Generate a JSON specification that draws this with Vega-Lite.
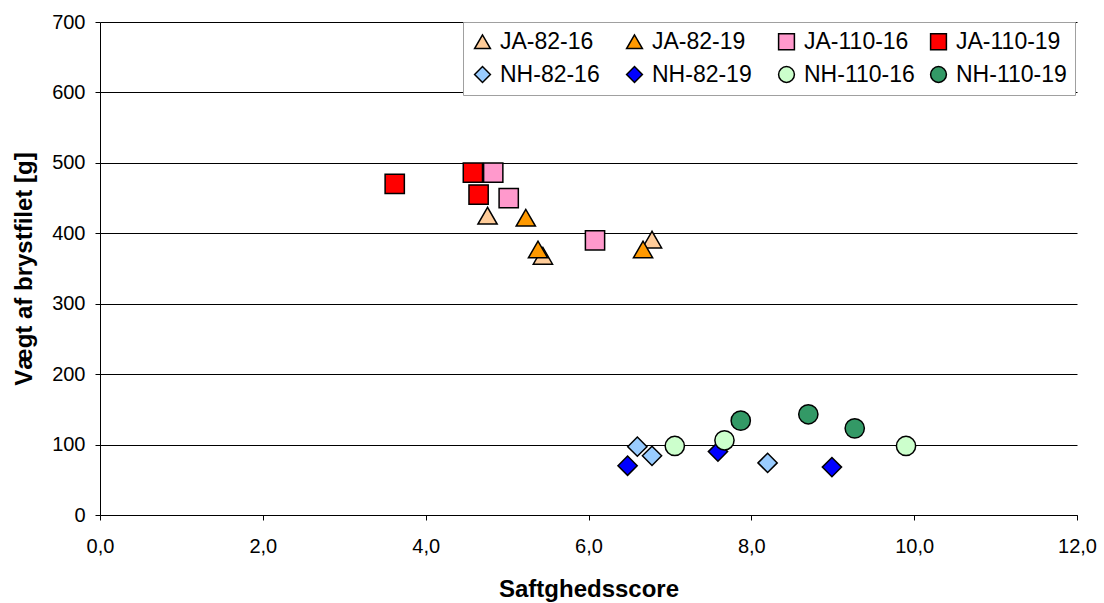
{
  "$schema": "https://vega.github.io/schema/vega-lite/v6.json",
  "width": 977,
  "height": 493,
  "autosize": "none",
  "padding": {"left": 100, "top": 22, "right": 27, "bottom": 88},
  "background": "white",
  "config": {
    "view": {"stroke": null},
    "font": "Liberation Sans"
  },
  "data": {
    "values": [
      {"group": "JA-82-16", "score": 4.76, "weight": 425},
      {"group": "JA-82-16", "score": 5.44, "weight": 368},
      {"group": "JA-82-16", "score": 6.78, "weight": 391},
      {"group": "JA-82-19", "score": 5.23, "weight": 422},
      {"group": "JA-82-19", "score": 5.38, "weight": 377},
      {"group": "JA-82-19", "score": 6.67, "weight": 377},
      {"group": "JA-110-16", "score": 4.83, "weight": 486},
      {"group": "JA-110-16", "score": 5.02, "weight": 450},
      {"group": "JA-110-16", "score": 6.08, "weight": 390},
      {"group": "JA-110-19", "score": 3.62, "weight": 470},
      {"group": "JA-110-19", "score": 4.58, "weight": 486},
      {"group": "JA-110-19", "score": 4.65, "weight": 455},
      {"group": "NH-82-16", "score": 6.60, "weight": 97},
      {"group": "NH-82-16", "score": 6.78, "weight": 84},
      {"group": "NH-82-16", "score": 8.20, "weight": 74},
      {"group": "NH-82-19", "score": 6.48, "weight": 70},
      {"group": "NH-82-19", "score": 7.59, "weight": 90},
      {"group": "NH-82-19", "score": 8.99, "weight": 68},
      {"group": "NH-110-16", "score": 7.06, "weight": 98},
      {"group": "NH-110-16", "score": 7.67, "weight": 106},
      {"group": "NH-110-16", "score": 9.90, "weight": 98},
      {"group": "NH-110-19", "score": 7.87, "weight": 134},
      {"group": "NH-110-19", "score": 8.70, "weight": 143},
      {"group": "NH-110-19", "score": 9.27, "weight": 123}
    ]
  },
  "mark": {"type": "point", "filled": true, "stroke": "black", "strokeWidth": 1.5, "size": 370, "opacity": 1},
  "encoding": {
    "x": {
      "field": "score", "type": "quantitative",
      "scale": {"domain": [0, 12], "nice": false, "zero": true},
      "axis": {
        "values": [0, 2, 4, 6, 8, 10, 12],
        "labelExpr": "replace(format(datum.value, '.1f'), '.', ',')",
        "grid": false, "domainColor": "black", "tickColor": "black",
        "tickSize": 5, "labelFontSize": 20, "labelColor": "black",
        "labelPadding": 16, "labelFlush": false,
        "title": "Saftghedsscore", "titleFontSize": 24, "titleFontWeight": "bold",
        "titleColor": "black", "titlePadding": 21
      }
    },
    "y": {
      "field": "weight", "type": "quantitative",
      "scale": {"domain": [0, 700], "nice": false},
      "axis": {
        "values": [0, 100, 200, 300, 400, 500, 600, 700],
        "grid": true, "gridColor": "black", "gridOpacity": 1, "gridWidth": 1,
        "domainColor": "black", "tickColor": "black", "tickSize": 5,
        "labelFontSize": 20, "labelColor": "black", "labelPadding": 10, "labelFlush": false,
        "title": "Vægt af brystfilet [g]", "titleFontSize": 24, "titleFontWeight": "bold",
        "titleColor": "black", "titlePadding": 15
      }
    },
    "color": {
      "field": "group", "type": "nominal",
      "scale": {
        "domain": ["JA-82-16", "JA-82-19", "JA-110-16", "JA-110-19", "NH-82-16", "NH-82-19", "NH-110-16", "NH-110-19"],
        "range": ["#FFCC99", "#FF9900", "#FF99CC", "#FF0000", "#99CCFF", "#0000FF", "#CCFFCC", "#339966"]
      },
      "legend": {
        "title": null, "orient": "none", "legendX": 363, "legendY": 0,
        "direction": "horizontal", "columns": 4, "gridAlign": "all",
        "columnPadding": 12, "rowPadding": 9,
        "fillColor": "white", "strokeColor": "#a0a0a0", "padding": 8,
        "labelFontSize": 23, "labelColor": "black", "symbolSize": 250,
        "symbolStrokeColor": "black", "symbolStrokeWidth": 1.5, "symbolOpacity": 1,
        "labelOffset": 6, "labelLimit": 300
      }
    },
    "shape": {
      "field": "group", "type": "nominal",
      "scale": {
        "domain": ["JA-82-16", "JA-82-19", "JA-110-16", "JA-110-19", "NH-82-16", "NH-82-19", "NH-110-16", "NH-110-19"],
        "range": ["triangle-up", "triangle-up", "square", "square", "diamond", "diamond", "circle", "circle"]
      }
    }
  }
}
